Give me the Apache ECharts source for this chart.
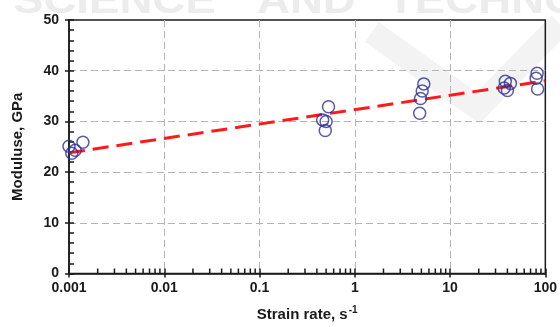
<!DOCTYPE html>
<html>
<head>
<meta charset="utf-8">
<script src="https://cdn.jsdelivr.net/npm/echarts@6/dist/echarts.min.js"></script>
<style>
  html, body { margin: 0; padding: 0; background: #fff; }
  #chart { width: 560px; height: 327px; }
</style>
</head>
<body>
<div id="chart"></div>
<script>
// measured points (strain rate s^-1, modulus GPa)
const strainRate = [0.001, 0.00107, 0.00116, 0.0014,
  0.46, 0.5, 0.49, 0.53,
  4.9, 5.1, 5.3, 4.8,
  38, 43, 37, 40,
  82, 80, 83]
const modulus = [25.1, 23.7, 24.3, 25.9,
  30.3, 30.0, 28.2, 32.9,
  34.5, 36.0, 37.4, 31.6,
  37.9, 37.5, 36.6, 36.1,
  39.5, 38.5, 36.4]
// fitted trend line end points
const trendRate = [0.001, 100]
const trendModulus = [23.8, 38.0]
const yTicks = [0, 10, 20, 30, 40, 50]

// minor ticks of the log axis: 2..9 in each decade
const minorTicks = []
for (let d = -3; d < 2; d++) {
  for (let k = 2; k <= 9; k++) minorTicks.push(+(k * Math.pow(10, d)).toPrecision(3))
}

const font = 'Arial, "Liberation Sans", Helvetica, sans-serif'
const dark = '#1a1a1a'
const gridDash = { color: '#b4b4b4', type: [7, 4], width: 1 }

// faint publisher watermark behind the plot
const wmText = (txt, x) => ({
  type: 'text', x: x, y: -16, scaleX: 1.2, z: -10, silent: true,
  style: { text: txt, font: 'bold 38px ' + font, fill: '#ececec' }
})

const chart = echarts.init(document.getElementById('chart'))
const option = {
  animation: false,
  graphic: [
    wmText('SCIENCE', 13),
    wmText('AND', 257),
    wmText('TECHNOLOGY', 387),
    {
      type: 'polyline', z: -10, silent: true,
      shape: { points: [[372, 32], [478, 108], [560, 24]] },
      style: { stroke: '#f3f3f3', lineWidth: 24, fill: 'none' }
    }
  ],
  grid: {
    left: 69, right: 14, top: 20, bottom: 52,
    show: true, borderColor: dark, borderWidth: 1.5, backgroundColor: 'transparent'
  },
  xAxis: [
    {
      type: 'log', logBase: 10, min: 0.001, max: 100, position: 'bottom',
      axisLine: { lineStyle: { color: dark, width: 1.5 } },
      axisTick: { inside: true, length: 5, lineStyle: { color: dark, width: 1.5 } },
      axisLabel: { show: false },
      splitLine: { show: true, showMinLine: false, showMaxLine: false, lineStyle: gridDash }
    },
    {
      type: 'log', logBase: 10, min: 0.001, max: 100, position: 'bottom',
      axisLine: { show: false },
      axisTick: { inside: false, length: 4, lineStyle: { color: dark, width: 1.5 } },
      axisLabel: {
        margin: 8, fontFamily: font, fontWeight: 'bold', fontSize: 14, color: dark,
        formatter: v => String(+v.toPrecision(3))
      },
      splitLine: { show: false },
      name: 'Strain rate, s{sup|-1}',
      nameLocation: 'middle', nameGap: 32,
      nameTextStyle: {
        fontFamily: font, fontWeight: 'bold', fontSize: 15, color: dark,
        rich: { sup: { fontFamily: font, fontWeight: 'bold', fontSize: 10, color: dark, padding: [0, 0, 8, 1] } }
      }
    }
  ],
  yAxis: [
    {
      type: 'value', min: 0, max: 50, interval: 10, position: 'left',
      axisLine: { show: true, lineStyle: { color: dark, width: 1.5 } },
      axisTick: { show: true, inside: true, length: 5, lineStyle: { color: dark, width: 1.5 } },
      minorTick: { show: true, splitNumber: 5, length: 5, lineStyle: { color: dark, width: 1.5 } },
      axisLabel: { show: false },
      splitLine: { show: true, showMinLine: false, showMaxLine: false, lineStyle: gridDash }
    },
    {
      type: 'value', min: 0, max: 50, interval: 10, position: 'left',
      axisLine: { show: false },
      axisTick: { show: true, inside: false, length: 4, lineStyle: { color: dark, width: 1.5 } },
      axisLabel: {
        margin: 10, fontFamily: font, fontWeight: 'bold', fontSize: 14, color: dark,
        customValues: yTicks
      },
      splitLine: { show: false },
      name: 'Moduluse, GPa',
      nameLocation: 'middle', nameGap: 44,
      nameTextStyle: { fontFamily: font, fontWeight: 'bold', fontSize: 15, color: dark }
    }
  ],
  series: [
    {
      type: 'custom', xAxisIndex: 0, yAxisIndex: 0, silent: true, z: 1,
      data: minorTicks.map(v => [v, 0]),
      renderItem: (params, api) => {
        const p = api.coord([api.value(0), 0])
        return {
          type: 'line',
          shape: { x1: p[0], y1: p[1], x2: p[0], y2: p[1] - 5 },
          style: { stroke: dark, lineWidth: 1.5 }
        }
      }
    },
    {
      type: 'line', xAxisIndex: 0, yAxisIndex: 0, silent: true, z: 2,
      data: trendRate.map((x, i) => [x, trendModulus[i]]),
      showSymbol: false, symbol: 'none',
      lineStyle: { color: '#ff1a1a', width: 3, type: [16, 8] }
    },
    {
      type: 'scatter', xAxisIndex: 0, yAxisIndex: 0, z: 3, clip: false,
      data: strainRate.map((x, i) => [x, modulus[i]]),
      symbol: 'circle', symbolSize: 12,
      itemStyle: { color: 'rgba(0,0,0,0)', borderColor: '#2e3192', borderWidth: 1.5 }
    }
  ]
}
chart.setOption(option)
window.addEventListener('resize', () => chart.resize())
</script>
</body>
</html>
